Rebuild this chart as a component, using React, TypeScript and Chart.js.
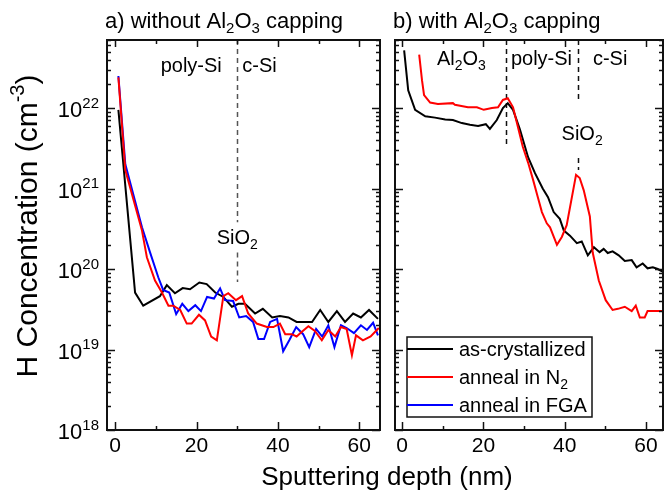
import React, { useEffect, useRef } from "react";
import { Chart, registerables } from "chart.js";
Chart.register(...registerables);

const FONT = '"Liberation Sans", Arial, Helvetica, sans-serif';

// ---------- Panel a) without Al2O3 capping ----------
const aBlackX = [0.8, 4.9, 6.9, 11, 12.7, 14.7, 16.6, 18.4, 20.7, 22.5, 24.6, 26.6, 28.7, 30.3, 31.9, 34.4, 36.3, 38.6, 40.5, 42.6, 44.6, 46.3, 48.4, 50.4, 52.4, 54.5, 56.5, 58.5, 60.4, 62.4, 64.6];
const aBlackY = [9.5e21, 5.1e19, 3.5e19, 4.6e19, 6.3e19, 5.0e19, 5.8e19, 5.6e19, 6.8e19, 6.5e19, 5.1e19, 4.5e19, 3.4e19, 3.7e19, 3.7e19, 2.8e19, 3.2e19, 2.5e19, 2.6e19, 2.5e19, 2.2e19, 2.2e19, 2.2e19, 3.1e19, 2.2e19, 3.0e19, 2.2e19, 2.8e19, 2.5e19, 3.1e19, 2.4e19];

const aRedX = [0.8, 2.5, 6.6, 7.8, 9.8, 11.5, 13.1, 14.3, 16, 17.6, 18.8, 20.6, 22.1, 23.6, 25, 26.6, 27.8, 29.7, 31.2, 32.7, 34.8, 37.3, 38.9, 40.5, 41.8, 43.4, 44.6, 45.9, 47.5, 49.1, 50.8, 52.4, 54.1, 55.5, 56.9, 58.2, 59.2, 60.9, 62.8, 64.8];
const aRedY = [2.4e22, 1.7e21, 3.0e20, 1.4e20, 7.2e19, 5.1e19, 3.5e19, 3.5e19, 3.1e19, 2.1e19, 2.1e19, 2.7e19, 2.3e19, 1.45e19, 1.3e19, 4.6e19, 5.0e19, 4.1e19, 4.6e19, 2.8e19, 2.1e19, 1.9e19, 1.9e19, 2.1e19, 1.55e19, 1.55e19, 1.45e19, 1.66e19, 1.95e19, 1.7e19, 1.3e19, 1.75e19, 1.45e19, 1.9e19, 1.8e19, 8.5e18, 1.5e19, 1.3e19, 1.45e19, 1.85e19];

const aBlueX = [0.8, 2.5, 6.6, 8.6, 10.6, 11.8, 13.3, 15, 16.5, 18, 19.7, 21.1, 22.6, 24.3, 25.8, 27, 29, 30.5, 32.2, 33.9, 35.2, 36.6, 38.1, 39.8, 41.3, 42.8, 44.5, 46.2, 47.7, 49.4, 50.9, 52.4, 53.9, 55.5, 56.9, 58.7, 60.4, 61.9, 63.4, 64.6];
const aBlueY = [2.5e22, 2.0e21, 3.3e20, 1.6e20, 7.9e19, 5.5e19, 5.1e19, 2.75e19, 3.7e19, 3.0e19, 3.55e19, 3.0e19, 4.5e19, 4.3e19, 5.75e19, 4.1e19, 4.0e19, 2.5e19, 2.6e19, 2.2e19, 1.35e19, 1.35e19, 2.2e19, 2.4e19, 9.5e18, 1.3e19, 1.9e19, 1.55e19, 1.07e19, 1.8e19, 1.45e19, 2.0e19, 1.07e19, 2.0e19, 1.85e19, 1.6e19, 2.0e19, 1.75e19, 2.15e19, 1.5e19];

// ---------- Panel b) with Al2O3 capping ----------
const bBlackX = [0.5, 1.5, 3.2, 5.7, 8.1, 10.6, 12.5, 14.7, 16.7, 18.7, 20.6, 21.6, 23.3, 24.8, 26, 27.3, 29, 31, 32.7, 34.6, 35.9, 37.3, 38.8, 39.8, 41.3, 43, 44.2, 45.7, 47.2, 48.6, 49.6, 50.6, 51.8, 53.3, 54.8, 56.5, 57.7, 59.2, 60.4, 61.7, 62.9, 64.4];
const bBlackY = [5.2e22, 1.66e22, 9.5e21, 7.9e21, 7.6e21, 7.2e21, 7.1e21, 6.5e21, 6.2e21, 6.0e21, 6.3e21, 5.5e21, 7.1e21, 1.0e22, 1.15e22, 9.5e21, 5.4e21, 2.45e21, 1.55e21, 1.0e21, 7.8e20, 5.1e20, 4.2e20, 3.0e20, 2.6e20, 2.1e20, 2.2e20, 1.48e20, 1.86e20, 1.62e20, 1.78e20, 1.58e20, 1.66e20, 1.48e20, 1.26e20, 1.29e20, 1.05e20, 1.17e20, 1.02e20, 1.05e20, 1.0e20, 9.1e19];

const bRedX = [4.2, 4.9, 5.4, 6.9, 8.8, 12.5, 13, 16.2, 18.4, 20.1, 22.1, 23.6, 24.8, 26, 27.3, 28.5, 29.7, 31, 32.2, 33.4, 34.4, 35.6, 36.4, 38.1, 39.3, 40.5, 42.8, 43.7, 44.7, 46.2, 46.9, 48.4, 50.1, 51.8, 53.1, 54.8, 56.5, 57.5, 58.5, 59.7, 60.4, 64.6];
const bRedY = [4.6e22, 2.2e22, 1.45e22, 1.17e22, 1.12e22, 1.15e22, 1.1e22, 1.02e22, 1.02e22, 9.5e21, 1.0e22, 1.02e22, 1.26e22, 1.32e22, 1.02e22, 5.8e21, 3.3e21, 2.1e21, 1.3e21, 7.8e20, 5.1e20, 3.7e20, 3.3e20, 2.0e20, 2.5e20, 3.5e20, 1.48e21, 1.35e21, 9.5e20, 4.5e20, 1.6e20, 7.2e19, 4.1e19, 3.1e19, 3.2e19, 3.4e19, 3.0e19, 3.5e19, 2.5e19, 2.5e19, 3.0e19, 3.0e19];

// ---------- axes ----------
const yMin = 1e18;
const yMax = 7e22;
const yDecades = [18, 19, 20, 21, 22];
const xMajorTicks = [0, 20, 40, 60];
const xMinorTicks = [10, 30, 50];
const aXRange = [-2, 65.1];
const bXRange = [-1.75, 64.2];

// ---------- series / legend ----------
const seriesColors = ["#000000", "#ff0000", "#0000ff"];
const legendLabels: [string, string][][] = [
  [["as-crystallized", "n"]],
  [["anneal in N", "n"], ["2", "sub"]],
  [["anneal in FGA", "n"]],
];

type Part = [string, string];

function drawRich(ctx: CanvasRenderingContext2D, parts: Part[], x: number, y: number, size: number, align: string, color: string) {
  const small = Math.round(size * 0.68);
  const widths: number[] = [];
  let total = 0;
  parts.forEach(([t, k]) => {
    ctx.font = `${k === "n" ? size : small}px ${FONT}`;
    const w = ctx.measureText(t).width;
    widths.push(w);
    total += w;
  });
  let cx = align === "center" ? x - total / 2 : align === "right" ? x - total : x;
  ctx.fillStyle = color;
  ctx.textAlign = "left";
  ctx.textBaseline = "alphabetic";
  parts.forEach(([t, k], i) => {
    ctx.font = `${k === "n" ? size : small}px ${FONT}`;
    const dy = k === "sub" ? size * 0.24 : k === "sup" ? -size * 0.42 : 0;
    ctx.fillText(t, cx, y + dy);
    cx += widths[i];
  });
}

type Ann = { parts: Part[]; x: number; y: number };
type Dash = { x: number; segs: [number, number][]; color: string };
type Cfg = { title: Part[]; yLabels: boolean; yTitle: boolean; legend: boolean; anns: Ann[]; dashes: Dash[] };

function makePlugin(cfg: Cfg) {
  return {
    id: "frame",
    beforeDatasetsDraw(chart: any) {
      const { ctx, scales } = chart;
      const sx = scales.x, sy = scales.y;
      ctx.save();
      ctx.lineWidth = 1.5;
      ctx.setLineDash([5, 4]);
      cfg.dashes.forEach((d) => {
        ctx.strokeStyle = d.color;
        const px = Math.round(sx.getPixelForValue(d.x)) + 0.5;
        d.segs.forEach(([a, b]) => {
          ctx.beginPath();
          ctx.moveTo(px, sy.getPixelForValue(a));
          ctx.lineTo(px, sy.getPixelForValue(b));
          ctx.stroke();
        });
      });
      ctx.restore();
    },
    afterDatasetsDraw(chart: any) {
      const { ctx, scales } = chart;
      const sx = scales.x, sy = scales.y;
      ctx.save();
      cfg.anns.forEach((a) => {
        drawRich(ctx, a.parts, sx.getPixelForValue(a.x), sy.getPixelForValue(a.y) + 7, 20, "center", "#000");
      });
      ctx.restore();
    },
    afterDraw(chart: any) {
      const { ctx, chartArea: a, scales } = chart;
      const sx = scales.x, sy = scales.y;
      ctx.save();
      ctx.strokeStyle = "#111";
      ctx.lineWidth = 1.5;
      ctx.setLineDash([]);
      const line = (x1: number, y1: number, x2: number, y2: number) => {
        ctx.beginPath();
        ctx.moveTo(x1, y1);
        ctx.lineTo(x2, y2);
        ctx.stroke();
      };
      // x ticks (bottom & top, inward)
      xMajorTicks.forEach((v) => {
        const p = Math.round(sx.getPixelForValue(v)) + 0.5;
        line(p, a.bottom, p, a.bottom - 8);
        line(p, a.top, p, a.top + 7);
      });
      xMinorTicks.forEach((v) => {
        const p = Math.round(sx.getPixelForValue(v)) + 0.5;
        line(p, a.bottom, p, a.bottom - 4);
        line(p, a.top, p, a.top + 4);
      });
      // y ticks (left & right, inward)
      yDecades.forEach((d) => {
        for (let m = 1; m <= 9; m++) {
          const v = m * Math.pow(10, d);
          if (v < yMin || v > yMax) continue;
          const p = Math.round(sy.getPixelForValue(v)) + 0.5;
          const len = m === 1 ? 8 : 4;
          line(a.left, p, a.left + len, p);
          line(a.right, p, a.right - len, p);
        }
      });
      // frame
      ctx.lineWidth = 2;
      ctx.strokeStyle = "#111";
      ctx.strokeRect(a.left, a.top, a.right - a.left, a.bottom - a.top);
      // x tick labels
      ctx.fillStyle = "#000";
      ctx.font = `21px ${FONT}`;
      ctx.textAlign = "center";
      ctx.textBaseline = "alphabetic";
      xMajorTicks.forEach((v) => {
        ctx.fillText(String(v), sx.getPixelForValue(v), a.bottom + 22);
      });
      // y tick labels
      if (cfg.yLabels) {
        yDecades.forEach((d) => {
          drawRich(ctx, [["10", "n"], [String(d), "sup"]], a.left - 8, sy.getPixelForValue(Math.pow(10, d)) + 9, 22, "right", "#000");
        });
      }
      // panel title
      drawRich(ctx, cfg.title, a.left - 2, 28, 22, "left", "#000");
      // y axis title
      if (cfg.yTitle) {
        ctx.save();
        ctx.translate(37, 226);
        ctx.rotate(-Math.PI / 2);
        drawRich(ctx, [["H Concentration (cm", "n"], ["-3", "sup"], [")", "n"]], 0, 0, 30, "center", "#000");
        ctx.restore();
      }
      // legend
      if (cfg.legend) {
        const bx = a.left + 12, bw = 185, bh = 80, by = a.bottom - 13 - bh;
        ctx.fillStyle = "#fff";
        ctx.fillRect(bx, by, bw, bh);
        ctx.lineWidth = 1.5;
        ctx.strokeStyle = "#111";
        ctx.strokeRect(bx, by, bw, bh);
        legendLabels.forEach((lab, i) => {
          const cy = by + 12 + i * 28;
          ctx.strokeStyle = seriesColors[i];
          ctx.lineWidth = 2;
          line(bx, cy, bx + 46, cy);
          drawRich(ctx, lab, bx + 52, cy + 7, 20, "left", "#000");
        });
      }
      ctx.restore();
    },
  };
}

function ds(xs: number[], ys: number[], color: string, label: string, order: number) {
  return {
    label,
    data: xs.map((v, i) => ({ x: v, y: ys[i] })),
    borderColor: color,
    borderWidth: 2,
    pointRadius: 0,
    tension: 0,
    fill: false,
    order,
  };
}

function makeConfig(datasets: any[], xr: number[], padL: number, padR: number, cfg: Cfg): any {
  return {
    type: "line",
    data: { datasets },
    options: {
      responsive: false,
      maintainAspectRatio: false,
      animation: false,
      events: [],
      layout: { padding: { left: padL, right: padR, top: 40, bottom: 66 } },
      scales: {
        x: { type: "linear", min: xr[0], max: xr[1], display: false, bounds: "data" },
        y: { type: "logarithmic", min: yMin, max: yMax, display: false, bounds: "data" },
      },
      plugins: { legend: { display: false }, tooltip: { enabled: false } },
    },
    plugins: [makePlugin(cfg)],
  };
}

export default function App() {
  const leftRef = useRef<HTMLCanvasElement>(null);
  const rightRef = useRef<HTMLCanvasElement>(null);

  useEffect(() => {
    const cfgA: Cfg = {
      title: [["a) without Al", "n"], ["2", "sub"], ["O", "n"], ["3", "sub"], [" capping", "n"]],
      yLabels: true,
      yTitle: true,
      legend: false,
      anns: [
        { parts: [["poly-Si", "n"]], x: 18.7, y: 3.4e22 },
        { parts: [["c-Si", "n"]], x: 35.5, y: 3.4e22 },
        { parts: [["SiO", "n"], ["2", "sub"]], x: 30, y: 2.5e20 },
      ],
      dashes: [{ x: 30, segs: [[yMax, 3.8e20], [1.6e20, 6.9e19]], color: "#555" }],
    };
    const cfgB: Cfg = {
      title: [["b) with Al", "n"], ["2", "sub"], ["O", "n"], ["3", "sub"], [" capping", "n"]],
      yLabels: false,
      yTitle: false,
      legend: true,
      anns: [
        { parts: [["Al", "n"], ["2", "sub"], ["O", "n"], ["3", "sub"]], x: 14.6, y: 4.2e22 },
        { parts: [["poly-Si", "n"]], x: 34.3, y: 4.2e22 },
        { parts: [["c-Si", "n"]], x: 51.2, y: 4.2e22 },
        { parts: [["SiO", "n"], ["2", "sub"]], x: 44.3, y: 4.9e21 },
      ],
      dashes: [
        { x: 25.5, segs: [[yMax, 3.2e21]], color: "#111" },
        { x: 43.2, segs: [[yMax, 1.17e22], [2.4e21, 1.7e21]], color: "#111" },
      ],
    };
    const c1 = new Chart(
      leftRef.current as HTMLCanvasElement,
      makeConfig(
        [
          ds(aRedX, aRedY, seriesColors[1], "anneal in N2", 0),
          ds(aBlueX, aBlueY, seriesColors[2], "anneal in FGA", 1),
          ds(aBlackX, aBlackY, seriesColors[0], "as-crystallized", 2),
        ],
        aXRange, 107, 8, cfgA
      )
    );
    const c2 = new Chart(
      rightRef.current as HTMLCanvasElement,
      makeConfig(
        [
          ds(bRedX, bRedY, seriesColors[1], "anneal in N2", 0),
          ds(bBlackX, bBlackY, seriesColors[0], "as-crystallized", 1),
        ],
        bXRange, 7, 2, cfgB
      )
    );
    return () => {
      c1.destroy();
      c2.destroy();
    };
  }, []);

  return (
    <div style={{ position: "absolute", left: 0, top: 0, width: 665, height: 496, background: "#fff", overflow: "hidden" }}>
      <canvas ref={leftRef} width={388} height={496} style={{ position: "absolute", left: 0, top: 0 }} />
      <canvas ref={rightRef} width={277} height={496} style={{ position: "absolute", left: 388, top: 0 }} />
      <div
        style={{
          position: "absolute",
          left: 187,
          top: 463,
          width: 400,
          textAlign: "center",
          fontFamily: FONT,
          fontSize: 26,
          lineHeight: "26px",
          color: "#000",
          whiteSpace: "nowrap",
        }}
      >
        Sputtering depth (nm)
      </div>
    </div>
  );
}
